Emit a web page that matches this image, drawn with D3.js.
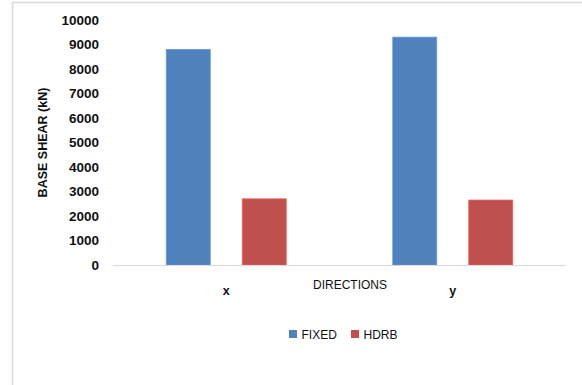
<!DOCTYPE html>
<html>
<head>
<meta charset="utf-8">
<script src="https://cdn.jsdelivr.net/npm/d3@7"></script>
<style>
  html, body { margin: 0; padding: 0; background: #fff; }
  svg { display: block; }
  text { font-family: "Liberation Sans", Arial, sans-serif; fill: #111; }
</style>
</head>
<body>
<script>
// Base shear per loading direction, fixed base vs. HDRB isolated
const categories = ["x", "y"];
const seriesNames = ["FIXED", "HDRB"];
const fixedValues = [8800, 9300];
const hdrbValues = [2700, 2650];
const yTickValues = [0, 1000, 2000, 3000, 4000, 5000, 6000, 7000, 8000, 9000, 10000];
const colors = ["#4F81BD", "#C0504D"];

const W = 582, H = 385;
const plot = { left: 113, right: 566, top: 20, bottom: 265 };

const svg = d3.select("body").append("svg")
  .attr("width", W).attr("height", H);

// chart area frame (top and left edges visible)
svg.append("rect")
  .attr("x", 12.5).attr("y", 2.5)
  .attr("width", W).attr("height", H)
  .attr("fill", "none").attr("stroke", "#d9d9d9").attr("stroke-width", 1.5);

const y = d3.scaleLinear().domain([0, 10000]).range([plot.bottom, plot.top]);
const x0 = d3.scaleBand().domain(categories).range([plot.left, plot.right]).paddingInner(0).paddingOuter(0);
const groupW = 120;
const x1 = d3.scaleBand().domain(seriesNames).range([0, groupW]).paddingInner(32 / 76).paddingOuter(0);

// y axis labels (no line, no ticks)
const yAxis = svg.append("g")
  .attr("transform", `translate(${plot.left - 14},0)`)
  .call(d3.axisLeft(y).tickValues(yTickValues).tickSize(0).tickPadding(0).tickFormat(d3.format("d")));
yAxis.select(".domain").remove();
yAxis.selectAll("text")
  .attr("font-family", "Liberation Sans, Arial, sans-serif")
  .attr("font-size", 13.5).attr("font-weight", "bold").attr("fill", "#111");

// bars
const rows = categories.map((c, i) => ({ cat: c, vals: [fixedValues[i], hdrbValues[i]] }));
const groups = svg.append("g").selectAll("g").data(rows).join("g")
  .attr("transform", d => `translate(${x0(d.cat) + x0.bandwidth() / 2 - groupW / 2},0)`);
groups.selectAll("rect")
  .data(d => d.vals.map((v, j) => ({ name: seriesNames[j], v, j })))
  .join("rect")
  .attr("x", d => x1(d.name))
  .attr("y", d => y(d.v))
  .attr("width", x1.bandwidth())
  .attr("height", d => y(0) - y(d.v))
  .attr("fill", d => colors[d.j])
  .attr("stroke", d => d3.color(colors[d.j]).brighter(0.5))
  .attr("stroke-width", 0.8);

// baseline
svg.append("line")
  .attr("x1", plot.left).attr("x2", plot.right)
  .attr("y1", y(0) + 0.5).attr("y2", y(0) + 0.5)
  .attr("stroke", "#d9d9d9").attr("stroke-width", 1.2);

// category labels
svg.append("g").selectAll("text").data(categories).join("text")
  .attr("x", d => x0(d) + x0.bandwidth() / 2)
  .attr("y", 295)
  .attr("text-anchor", "middle")
  .attr("font-size", 12.5).attr("font-weight", "bold")
  .text(d => d);

// axis titles
svg.append("text")
  .attr("x", 350).attr("y", 289)
  .attr("text-anchor", "middle")
  .attr("font-size", 12)
  .text("DIRECTIONS");

svg.append("text")
  .attr("transform", `translate(47,${(plot.top + plot.bottom) / 2}) rotate(-90)`)
  .attr("text-anchor", "middle")
  .attr("font-size", 12.5).attr("font-weight", "bold")
  .text("BASE SHEAR  (kN)");

// legend
const legendItems = [{ name: "FIXED", x: 289 }, { name: "HDRB", x: 351 }];
const leg = svg.append("g").selectAll("g").data(legendItems).join("g")
  .attr("transform", d => `translate(${d.x},330)`);
leg.append("rect")
  .attr("width", 8).attr("height", 8)
  .attr("fill", (d, i) => colors[i]);
leg.append("text")
  .attr("x", 12.5).attr("y", 9)
  .attr("font-size", 12)
  .text(d => d.name);
</script>
</body>
</html>
